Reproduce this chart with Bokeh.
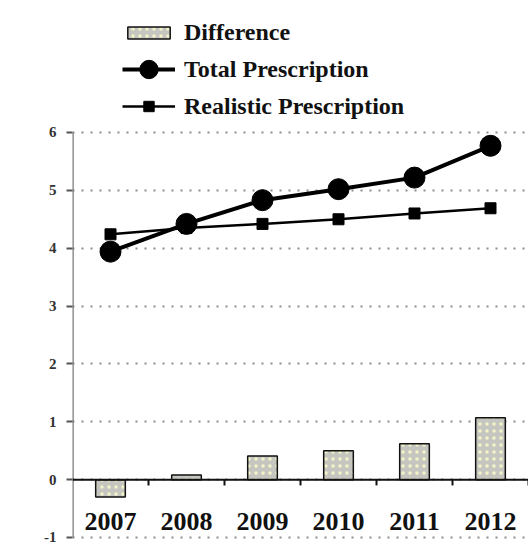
from bokeh.plotting import figure
from bokeh.models import Range1d, Legend, LegendItem, ColumnDataSource, FixedTicker, CustomJSTickFormatter
from bokeh.core.properties import value
from bokeh.embed import file_html
from bokeh.resources import INLINE

years = ["2007", "2008", "2009", "2010", "2011", "2012"]
total = [3.94, 4.42, 4.83, 5.02, 5.22, 5.77]
realistic = [4.24, 4.35, 4.42, 4.50, 4.60, 4.69]
difference = [-0.30, 0.08, 0.41, 0.50, 0.62, 1.07]
y_ticks = [-1, 0, 1, 2, 3, 4, 5, 6]

xs = [i + 0.5 for i in range(len(years))]
FONT = "Liberation Serif"

W, H = 528, 546
p = figure(width=W, height=H, output_backend="svg", toolbar_location=None,
           x_range=Range1d(0, 6), y_range=Range1d(-1.052, 8.281),
           min_border_left=72, min_border_right=0, min_border_bottom=6, min_border_top=0)
p.outline_line_color = None
p.background_fill_color = "white"
p.xaxis.visible = False
p.xgrid.visible = False

yax = p.yaxis[0]
yax.ticker = FixedTicker(ticks=y_ticks)
yax.formatter = CustomJSTickFormatter(code="return String(tick);")
yax.axis_line_color = None
yax.major_tick_line_color = "#555555"
yax.major_tick_line_width = 2
yax.major_tick_out = 6
yax.major_tick_in = 0
yax.minor_tick_line_color = None
yax.major_label_text_font = FONT
yax.major_label_text_font_style = "bold"
yax.major_label_text_font_size = "15px"
yax.major_label_text_color = "#333333"
yax.major_label_standoff = 10

p.ygrid.ticker = FixedTicker(ticks=y_ticks)
p.ygrid.grid_line_color = "#8c8c8c"
p.ygrid.grid_line_width = 2
p.ygrid.grid_line_dash = "2 7"

src = ColumnDataSource(dict(x=xs, year=years, total=total, realistic=realistic, diff=difference,
                            ly=[-0.72] * len(years)))

bars = p.vbar(x="x", top="diff", bottom=0, width=0.39, source=src,
              fill_color="#c6c6c0", line_color="#111111", line_width=1.5,
              hatch_pattern="dot", hatch_color="#f4f4c8", hatch_scale=7, hatch_weight=1.5)

# y axis line from -1 to 6
p.segment(x0=[0], y0=[y_ticks[0]], x1=[0], y1=[y_ticks[-1]], line_color="#7a7a7a", line_width=2.5)
# x axis at zero
p.segment(x0=[0], y0=[0], x1=[6], y1=[0], line_color="#111111", line_width=2)
p.segment(x0=[1, 2, 3, 4, 5, 6], y0=[0] * 6, x1=[1, 2, 3, 4, 5, 6], y1=[-0.1] * 6,
          line_color="#111111", line_width=2)
p.text(x="x", y="ly", text="year", source=src, text_font=value(FONT), text_font_style="bold",
       text_font_size="26px", text_align="center", text_baseline="middle", text_color="#111111")

tl = p.line(x="x", y="total", source=src, line_color="black", line_width=4)
tm = p.scatter(x="x", y="total", source=src, marker="circle", size=21, fill_color="black", line_color="black")
rl = p.line(x="x", y="realistic", source=src, line_color="black", line_width=2.5)
rm = p.scatter(x="x", y="realistic", source=src, marker="square", size=11, fill_color="black", line_color="black")

frame_bottom = H - 6


def make_legend(item, gh, center_y):
    rh = max(gh, 30)
    lg = Legend(items=[item], orientation="vertical",
                location=(50, frame_bottom - (center_y + rh / 2)))
    lg.label_text_font = FONT
    lg.label_text_font_style = "bold"
    lg.label_text_font_size = "24px"
    lg.label_text_color = "#111111"
    lg.label_text_baseline = "middle"
    lg.glyph_width = 53
    lg.glyph_height = gh
    lg.label_height = 30
    lg.spacing = 0
    lg.padding = 0
    lg.margin = 0
    lg.border_line_color = None
    lg.background_fill_alpha = 0
    lg.label_standoff = 9
    p.add_layout(lg)


make_legend(LegendItem(label="Difference", renderers=[bars]), 15, 32)
make_legend(LegendItem(label="Total Prescription", renderers=[tl, tm]), 46, 69)
make_legend(LegendItem(label="Realistic Prescription", renderers=[rl, rm]), 26, 106)

open("out.html", "w").write(file_html(p, INLINE))
